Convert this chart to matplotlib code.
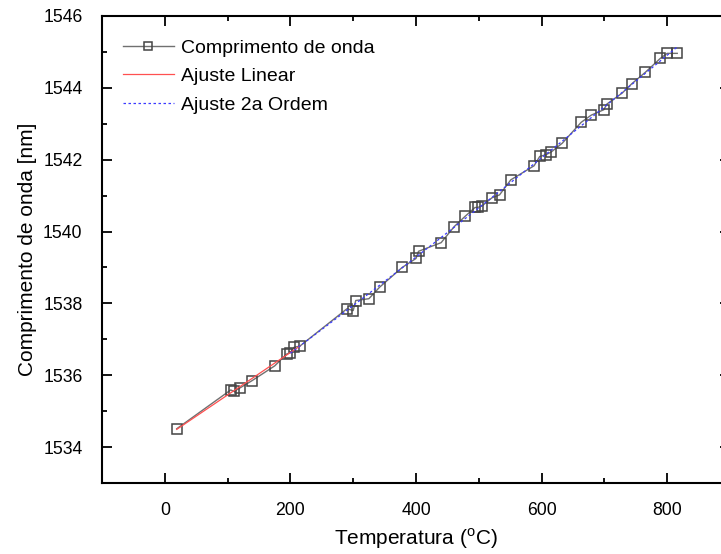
import numpy as np
import matplotlib
matplotlib.use("Agg")
import matplotlib.pyplot as plt

# ==========================================================
# Data
# ==========================================================

temperatura = [
    19, 105, 110, 120, 139, 175, 194, 200, 206, 215,
    290, 300, 304, 325, 342, 378, 400, 404, 440, 461,
    478, 494, 498, 505, 521, 533, 551, 588, 597, 607,
    615, 633, 663, 679, 699, 704, 728, 744, 765, 789,
    800, 816,
]

comprimento = [
    1534.51, 1535.59, 1535.55, 1535.65, 1535.85, 1536.26, 1536.59, 1536.63, 1536.78, 1536.81,
    1537.85, 1537.80, 1538.08, 1538.13, 1538.45, 1539.00, 1539.25, 1539.45, 1539.69, 1540.14,
    1540.42, 1540.67, 1540.67, 1540.71, 1540.94, 1541.02, 1541.44, 1541.83, 1542.09, 1542.14,
    1542.21, 1542.46, 1543.04, 1543.24, 1543.39, 1543.55, 1543.85, 1544.12, 1544.43, 1544.82,
    1544.96, 1544.96,
]

# fit ranges: linear on the low temperature part, 2nd order above
LIN_RANGE = (19, 215)
QUAD_RANGE = (200, 816)

legend_labels = ["Comprimento de onda", "Ajuste Linear", "Ajuste 2a Ordem"]

# ==========================================================
# Fits
# ==========================================================

t = np.asarray(temperatura, dtype=float)
wl = np.asarray(comprimento, dtype=float)

m_lin = (t >= LIN_RANGE[0]) & (t <= LIN_RANGE[1])
p_lin = np.polyfit(t[m_lin], wl[m_lin], 1)
t_lin = np.linspace(LIN_RANGE[0], LIN_RANGE[1], 50)

m_quad = (t >= QUAD_RANGE[0]) & (t <= QUAD_RANGE[1])
p_quad = np.polyfit(t[m_quad], wl[m_quad], 2)
t_quad = np.linspace(QUAD_RANGE[0], QUAD_RANGE[1], 200)

# ==========================================================
# Plot
# ==========================================================

plt.rcParams["font.family"] = ["Liberation Sans", "DejaVu Sans"]
plt.rcParams["mathtext.fontset"] = "custom"
plt.rcParams["mathtext.rm"] = "Liberation Sans"

fig = plt.figure(figsize=(7.21, 5.54), dpi=100)
ax = fig.add_axes([102 / 721, 71 / 554, 628 / 721, 467 / 554])

ax.plot(
    t, wl,
    color="#707070",
    linewidth=1.0,
    marker="s",
    markersize=7.8,
    markerfacecolor="none",
    markeredgecolor="#444444",
    markeredgewidth=1.1,
    label=legend_labels[0],
    zorder=3,
)

ax.plot(
    t_lin, np.polyval(p_lin, t_lin),
    color="#ff5050",
    linewidth=0.9,
    label=legend_labels[1],
    zorder=4,
)

ax.plot(
    t_quad, np.polyval(p_quad, t_quad),
    color="#3a3aff",
    linewidth=0.9,
    linestyle=(0, (2, 2)),
    label=legend_labels[2],
    zorder=4,
)

ax.set_xlim(-100, 900)
ax.set_ylim(1533, 1546)

ax.set_xticks([0, 200, 400, 600, 800])
ax.set_xticks(np.arange(-100, 901, 100), minor=True)
ax.set_yticks(np.arange(1534, 1547, 2))
ax.set_yticks(np.arange(1533, 1547, 1), minor=True)

ax.tick_params(which="both", direction="in", top=True, right=True, width=1.3)
ax.tick_params(which="major", length=7)
ax.tick_params(which="minor", length=3.5)
ax.tick_params(axis="x", which="major", labelsize=12.7, pad=14)
ax.tick_params(axis="y", which="major", labelsize=12.7, pad=14)

for sp in ax.spines.values():
    sp.set_linewidth(1.5)

ax.set_xlabel(r"Temperatura ($^{\mathrm{o}}$C)", fontsize=15, labelpad=5)
ax.set_ylabel("Comprimento de onda [nm]", fontsize=15, labelpad=4)

ax.legend(
    loc="upper left",
    bbox_to_anchor=(0.015, 0.975),
    frameon=False,
    fontsize=14,
    handlelength=2.6,
    handletextpad=0.4,
    labelspacing=0.55,
    borderaxespad=0.2,
    markerscale=0.8,
)

fig.savefig("out.png", dpi=100)
plt.close(fig)
